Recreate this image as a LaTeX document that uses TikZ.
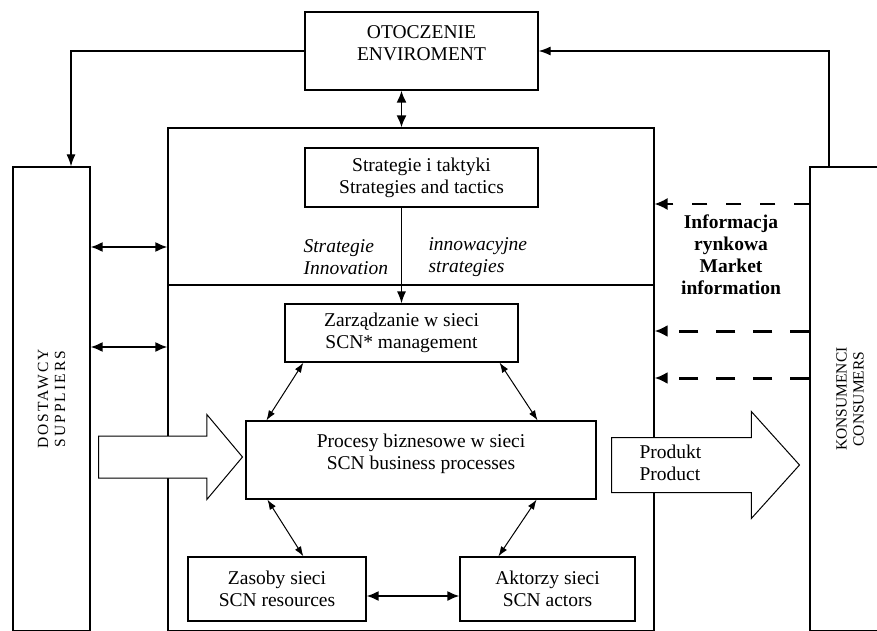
\documentclass[tikz,border=0pt]{standalone}
\usepackage{fontspec}
\setmainfont{Liberation Serif}
\usetikzlibrary{arrows.meta, shapes.arrows}

\begin{document}
\begin{tikzpicture}[
                x=1pt, y=-1pt,
                box/.style={draw, line width=1.2pt, inner sep=0pt, align=center, font=\fontsize{19.5}{22}\selectfont},
                boxtext/.style={align=center, font=\fontsize{19.5}{22}\selectfont},
                side/.style={draw, line width=1.2pt, rotate=90, align=center, font=\fontsize{15.5}{17}\selectfont},
                note/.style={align=left, font=\fontsize{19.5}{22}\selectfont\itshape},
                link/.style={line width=1pt, <->, >={Latex[length=10pt, width=7pt]}},
                thicklink/.style={line width=1.8pt, <->, >={Latex[length=12pt, width=10pt]}},
                feed/.style={line width=1.2pt, ->, >={Latex[length=12pt, width=9pt]}},
                info/.style={->, >={Latex[length=13pt, width=12pt]}},
                flow/.style={single arrow, draw, fill=white, line width=1pt, inner xsep=0pt, anchor=tail}
            ]
                \useasboundingbox (0,0) rectangle (877,631);
                \clip (-5,-5) rectangle (890,630.4);

                % Niveaux des fleches horizontales
                \coordinate (lvA) at (0,247);
                \coordinate (lvB) at (0,347);
                \coordinate (lvC) at (0,204);
                \coordinate (lvD) at (0,331);
                \coordinate (lvE) at (0,378);
                \coordinate (split) at (0,285);

                % Otoczenie et cadre de la sieć
                \node[box, minimum width=233pt, minimum height=78pt, label={[boxtext, yshift=8pt]center:OTOCZENIE\\ENVIROMENT}] (env) at (421.5,51) {};
                \node[box, minimum width=486pt, minimum height=503pt] (frame) at (411,379.5) {};
                \draw[line width=1.2pt] (frame.west |- split) -- (frame.east |- split);

                % Dostawcy et konsumenci (boites verticales)
                \node[side, minimum width=464pt, minimum height=77pt, font=\fontsize{15.5}{17}\selectfont\addfontfeature{LetterSpace=13}] (supp) at (51.5,399) {DOSTAWCY\\SUPPLIERS};
                \node[side, minimum width=464pt, minimum height=80pt] (cons) at (850,399) {KONSUMENCI\\CONSUMERS};

                % Boites internes
                \node[box, minimum width=233pt, minimum height=59pt] (strat) at (421.5,177.5) {Strategie i taktyki\\Strategies and tactics};
                \node[box, minimum width=233pt, minimum height=58pt] (mgmt) at (401.5,333) {Zarządzanie w sieci\\SCN* management};
                \node[box, minimum width=350pt, minimum height=78pt, label={[boxtext, yshift=6.5pt]center:Procesy biznesowe w sieci\\SCN business processes}] (proc) at (421,460) {};
                \node[box, minimum width=178pt, minimum height=64pt] (res) at (277,589) {Zasoby sieci\\SCN resources};
                \node[box, minimum width=175pt, minimum height=64pt] (act) at (547.5,589) {Aktorzy sieci\\SCN actors};

                % Textes libres
                \node[note, anchor=west] (innoL) at (300,257.5) {Strategie\\Innovation};
                \node[note, anchor=west] (innoR) at (425,257.5) {innowacyjne\\strategies};
                \node[boxtext, font=\fontsize{19.5}{22}\selectfont\bfseries] (mkt) at (731,255) {Informacja\\rynkowa\\Market\\information};

                % Grosses fleches (flux)
                \node[flow, inner ysep=20.5pt, minimum height=144pt, minimum width=84pt, single arrow head extend=21.5pt, single arrow tip angle=100] (inflow) at (98,457) {};
                \node[flow, inner ysep=27pt, minimum height=188pt, minimum width=106pt, single arrow head extend=26pt, single arrow tip angle=96] (outflow) at (611,465) {};
                \node[boxtext, align=left, anchor=west] (prod) at (636,463) {Produkt\\Product};

                % Liens avec l'otoczenie
                \draw[feed] (env.west) -| ([xshift=19.5pt]supp.east);
                \draw[feed] ([xshift=-21pt]cons.east) |- (env.east);
                \draw[thicklink] (env.south -| mgmt.north) -- (frame.north -| mgmt.north);
                \draw[thicklink] (supp.south |- lvA) -- (frame.west |- lvA);
                \draw[thicklink] (supp.south |- lvB) -- (frame.west |- lvB);
                \draw[feed] (strat.south -| mgmt.north) -- (mgmt.north);

                % Informacja rynkowa (pointilles)
                \draw[info, line width=1.5pt, dash pattern=on 15pt off 19pt] (cons.north |- lvC) -- (frame.east |- lvC);
                \draw[info, line width=3pt, dash pattern=on 19pt off 18pt] (cons.north |- lvD) -- (frame.east |- lvD);
                \draw[info, line width=3pt, dash pattern=on 19pt off 18pt] (cons.north |- lvE) -- (frame.east |- lvE);

                % Liens entre les boites internes
                \draw[link] ([xshift=19pt]mgmt.south west) -- ([xshift=21pt]proc.north west);
                \draw[link] ([xshift=-19pt]mgmt.south east) -- ([xshift=-59pt]proc.north east);
                \draw[link] ([xshift=22pt]proc.south west) -- ([xshift=116pt]res.north west);
                \draw[link] ([xshift=-60pt]proc.south east) -- ([xshift=39pt]act.north west);
                \draw[thicklink] ([yshift=-7pt]res.east) -- ([yshift=-7pt]act.west);
            \end{tikzpicture}
\end{document}
